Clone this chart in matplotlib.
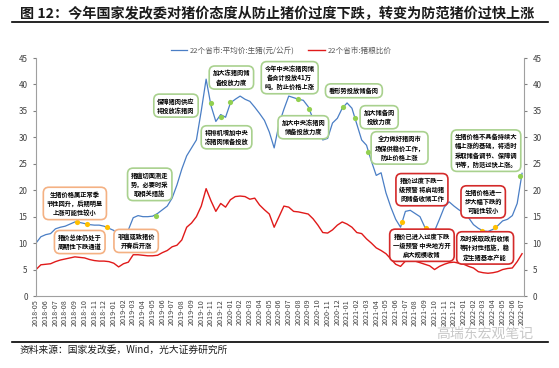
import numpy as np
import pandas as pd
import matplotlib
matplotlib.use('Agg')
import matplotlib.pyplot as plt

plt.rcParams['font.family'] = ['Noto Sans CJK SC', 'DejaVu Sans']

# month tick labels, 2018-05 .. 2022-07
months = pd.period_range('2018-05', '2022-07', freq='M').strftime('%Y-%m').tolist()
# readings every half month from 2018-05
t = np.arange(0, 50.5, 0.5)

pork_price = [10.0, 11.2, 11.6, 11.8, 12.7, 13.0, 13.2, 13.6, 14.0, 13.9,
              13.7, 13.5, 13.4, 13.4, 13.2, 12.8, 12.4, 11.2, 12.0, 12.5,
              14.8, 15.2, 15.0, 15.0, 15.1, 15.6, 16.3, 17.0, 18.5, 21.0,
              24.0, 26.5, 28.0, 29.5, 35.0, 41.0, 36.0, 33.0, 34.3, 33.8,
              36.5, 37.2, 37.8, 37.2, 36.8, 35.7, 34.5, 33.2, 31.0, 28.0,
              32.5, 35.3, 37.8, 37.5, 37.2, 37.0, 35.8, 33.5, 31.5, 29.5,
              29.8, 32.7, 33.6, 35.5, 36.5, 35.5, 32.5, 29.5, 28.5, 25.5,
              22.8, 23.3, 19.5, 16.8, 14.5, 13.0, 16.0, 16.2, 15.6, 15.0,
              13.0, 11.5, 12.3, 14.5, 16.8, 17.8, 17.0, 16.3, 15.7, 14.8,
              13.5, 12.8, 12.3, 12.2, 12.6, 13.3, 14.2, 14.5, 15.2, 17.5,
              23.2]

hog_grain_ratio = [5.0, 5.9, 6.0, 6.1, 6.5, 6.8, 7.0, 7.2, 7.4, 7.3,
                   7.2, 6.9, 6.7, 6.6, 6.6, 6.5, 6.2, 5.5, 6.1, 6.4,
                   7.8, 7.8, 7.7, 7.6, 7.6, 7.7, 8.2, 8.6, 9.3, 9.6,
                   10.6, 13.0, 13.8, 15.0, 17.0, 20.3, 18.0, 16.0, 17.5, 16.8,
                   18.2, 18.8, 18.9, 18.8, 18.3, 18.5, 17.2, 16.3, 15.5, 13.0,
                   15.0, 17.0, 16.8, 16.0, 15.9, 15.7, 15.5, 14.6, 13.4, 12.0,
                   11.9, 12.5, 13.4, 14.0, 13.6, 13.0, 12.0, 11.8, 10.8, 10.0,
                   9.1, 8.6, 8.0, 7.0, 6.0, 5.6, 6.6, 6.7, 6.6, 6.3,
                   6.0, 5.7, 5.0, 5.6, 6.0, 6.3, 6.4, 6.2, 6.0, 5.6,
                   5.3, 4.6, 4.4, 4.3, 4.4, 4.6, 5.0, 5.2, 5.3, 6.5,
                   8.0]

# policy points marked on the price line
green_t = [12.3, 18.0, 19.0, 20.0, 27.0, 28.1, 31.6, 32.8, 34.2, 49.8]
green_v = [15.1, 36.5, 33.9, 36.6, 37.2, 35.3, 35.7, 33.6, 27.3, 22.7]
yellow_t = [4.2, 5.2, 7.3, 37.6, 40.1, 45.9, 47.2]
yellow_v = [14.0, 13.6, 13.0, 14.0, 12.8, 12.3, 13.0]

GREEN = '#A9D18E'
ORANGE = '#F4B183'
RED = '#D42A2A'
notes = [
    (14.4, 36.0, '保障猪肉供应\n将投放冻猪肉', GREEN),
    (20.1, 41.3, '加大冻猪肉储\n备投放力度', GREEN),
    (26.1, 41.3, '今年中央冻猪肉储\n备合计投放41万\n吨，防止价格上涨', GREEN),
    (19.6, 30.0, '将排机增加中央\n冻猪肉储备投放', GREEN),
    (27.5, 31.9, '加大中央冻猪肉\n储备投放力度', GREEN),
    (32.7, 38.8, '看形势投放储备肉', GREEN),
    (35.3, 33.8, '加大储备肉\n投放力度', GREEN),
    (37.4, 28.0, '全力做好猪肉市\n场保供稳价工作，\n防止价格上涨', GREEN),
    (46.3, 27.5, '生猪价格不具备持续大\n幅上涨的基础，将适时\n采取储备调节、保障调\n节等，防范过快上涨。', GREEN),
    (4.0, 17.5, '生猪价格属正常季\n节性回升，后期明显\n上涨可能性较小', ORANGE),
    (4.5, 10.2, '猪价总体仍处于\n周期性下跌通道', ORANGE),
    (10.3, 10.4, '非瘟或致猪价\n开春后开涨', ORANGE),
    (11.7, 21.1, '猪瘟切面测走\n势，必要时采\n取相关措施', GREEN),
    (39.7, 20.1, '猪价过度下跌一\n级预警 将启动猪\n肉储备收储工作', RED),
    (46.0, 17.8, '生猪价格进一\n步大幅下跌的\n可能性较小', RED),
    (39.7, 9.6, '猪价已进入过度下跌\n一级预警 中央地方开\n启大规模收储', RED),
    (46.2, 9.1, '及时采取政府收储\n等针对性措施，稳\n定生猪基本产能', RED),
]

fig = plt.figure(figsize=(5.59, 3.68), dpi=100)
ax = fig.add_axes([36/559, 1-296/368, (524-36)/559, (296-58)/368])

l1, = ax.plot(t, pork_price, color='#4A7EC5', lw=0.9, zorder=2)
l2, = ax.plot(t, hog_grain_ratio, color='#E01A1A', lw=1.0, zorder=2)
ax.scatter(green_t, green_v, s=14, color='#92D050', zorder=4, lw=0)
ax.scatter(yellow_t, yellow_v, s=14, color='#FFC000', zorder=4, lw=0)

for x, y, txt, c in notes:
    ax.text(x, y, txt, ha='center', va='center', fontsize=4.5, weight='bold',
            linespacing=1.35, zorder=5,
            bbox=dict(boxstyle='round,pad=0.55,rounding_size=0.9', fc='white', ec=c, lw=1.2))

ax.set_xlim(0, 50.2)
ax.set_ylim(0, 45)
ax.set_xticks(range(len(months)))
ax.set_xticklabels(months, rotation=90, fontsize=5.2, color='#404040')
ax.set_yticks(range(0, 46, 5))
ax.tick_params(axis='y', labelsize=5.8, labelcolor='#404040', length=2.5, color='#808080')
ax.tick_params(axis='x', length=0, pad=2)
for s in ['top', 'right']:
    ax.spines[s].set_visible(False)
ax.spines['left'].set_color('#A0A0A0')
ax.spines['bottom'].set_color('#A0A0A0')

ax2 = ax.twinx()
ax2.set_ylim(0, 45)
ax2.set_yticks(range(0, 46, 5))
ax2.tick_params(axis='y', labelsize=5.8, labelcolor='#404040', length=2.5, color='#808080')
for s in ['top', 'left', 'bottom']:
    ax2.spines[s].set_visible(False)
ax2.spines['right'].set_color('#A0A0A0')

fig.legend([l1, l2], ['22个省市:平均价:生猪(元/公斤)', '22个省市:猪粮比价'],
           loc='center', bbox_to_anchor=(281/559, 1-51/368), ncol=2, frameon=False,
           fontsize=5.5, labelcolor='#595959', handlelength=2.2, columnspacing=1.8,
           handletextpad=0.3)

fig.text(20/559, 1-14/368, '图 12：今年国家发改委对猪价态度从防止猪价过度下跌，转变为防范猪价过快上涨',
         fontsize=10.2, weight='bold', ha='left', va='center', color='#1a1a1a')
fig.add_artist(plt.Line2D([12/559, 548/559], [1-22/368, 1-22/368], color='black', lw=1.2))
fig.add_artist(plt.Line2D([12/559, 548/559], [1-342/368, 1-342/368], color='black', lw=1.2))
fig.text(20/559, 1-350/368, '资料来源：国家发改委，Wind，光大证券研究所',
         fontsize=7, ha='left', va='center', color='#1a1a1a')
fig.text(533/559, 1-334/368, '高瑞东宏观笔记', fontsize=10, ha='right', va='center',
         color='#C8C8C8')

fig.savefig('out.png', dpi=100)
